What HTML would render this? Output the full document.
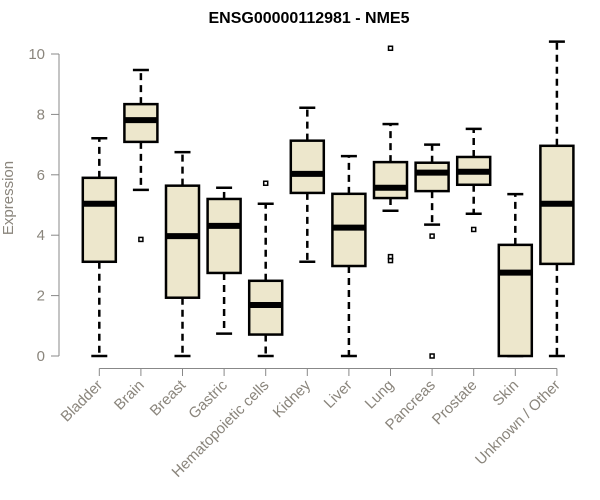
<!DOCTYPE html>
<html><head><meta charset="utf-8"><style>body{margin:0;background:#fff}svg{display:block}</style></head>
<body>
<svg id="chart" width="600" height="500" xmlns="http://www.w3.org/2000/svg" font-family="Liberation Sans, Arial, sans-serif">
<text x="309" y="23" text-anchor="middle" font-weight="bold" font-size="16" fill="#000">ENSG00000112981 - NME5</text>
<text transform="translate(13,198) rotate(-90)" text-anchor="middle" font-size="15" fill="#8a857c">Expression</text>
<g id="g"></g>
</svg>
<script>
const categories=["Bladder","Brain","Breast","Gastric","Hematopoietic cells","Kidney","Liver","Lung","Pancreas","Prostate","Skin","Unknown / Other"];
const whiskerLow=[0,5.50,0,0.74,0,3.12,0,4.81,4.35,4.71,0,0];
const q1=[3.12,7.09,1.93,2.75,0.71,5.40,2.98,5.23,5.46,5.67,0,3.05];
const medians=[5.04,7.81,3.97,4.31,1.69,6.03,4.25,5.57,6.07,6.10,2.76,5.04];
const q3=[5.90,8.34,5.64,5.20,2.49,7.13,5.37,6.42,6.40,6.59,3.68,6.96];
const whiskerHigh=[7.21,9.47,6.75,5.57,5.04,8.22,6.62,7.68,7.00,7.52,5.36,10.41];
const outliers=[[],[3.86],[],[],[5.72],[],[],[10.19,3.29,3.16],[3.97,0],[4.19],[],[]];
const yTicks=[0,2,4,6,8,10];
const NS="http://www.w3.org/2000/svg",g=document.getElementById('g');
const y=v=>356-v*30.2, x=i=>99.3+i*41.6;
function mk(t,a,name){const e=document.createElementNS(NS,t);for(const k in a)e.setAttribute(k,a[k]);


g.appendChild(e);return e;}
const grey="#888";
const tgrey="#8a857c";
mk('line',{x1:59,x2:59,y1:y(0),y2:y(10),stroke:grey},'y-axis-line');
yTicks.forEach(t=>{mk('line',{x1:51,x2:59,y1:y(t),y2:y(t),stroke:grey},'y-tick');
const tx=mk('text',{x:45,y:y(t)+5,'text-anchor':'end','font-size':15,fill:tgrey},'y-tick-label');tx.textContent=t;});
mk('line',{x1:x(0),x2:x(11),y1:368.5,y2:368.5,stroke:grey},'x-axis-line');
categories.forEach((c,i)=>{const cx=x(i),hw=16.5;
mk('line',{x1:cx,x2:cx,y1:368.5,y2:376,stroke:grey},'x-tick');
const tx=mk('text',{x:cx+4,y:386,'text-anchor':'end','font-size':15,fill:tgrey,transform:`rotate(-45 ${cx+4} 386)`},'x-tick-label');tx.textContent=c;
const d={stroke:'#000','stroke-width':2.5,'stroke-dasharray':'7,5'};
mk('line',Object.assign({x1:cx,x2:cx,y1:y(q3[i]),y2:y(whiskerHigh[i])},d),'upper-whisker');
mk('line',Object.assign({x1:cx,x2:cx,y1:y(q1[i]),y2:y(whiskerLow[i])},d),'lower-whisker');
mk('line',{x1:cx-8,x2:cx+8,y1:y(whiskerHigh[i]),y2:y(whiskerHigh[i]),stroke:'#000','stroke-width':2.5},'upper-whisker-cap');
mk('line',{x1:cx-8,x2:cx+8,y1:y(whiskerLow[i]),y2:y(whiskerLow[i]),stroke:'#000','stroke-width':2.5},'lower-whisker-cap');
mk('rect',{x:cx-hw,y:y(q3[i]),width:hw*2,height:y(q1[i])-y(q3[i]),fill:'#ede7cc',stroke:'#000','stroke-width':2.5},'box-'+c.toLowerCase().replace(/[^a-z]+/g,'-'));
mk('line',{x1:cx-hw,x2:cx+hw,y1:y(medians[i]),y2:y(medians[i]),stroke:'#000','stroke-width':6},'median-line');
outliers[i].forEach(o=>mk('rect',{x:cx-2,y:y(o)-2,width:4,height:4,fill:'none',stroke:'#000','stroke-width':1.5},'outlier-point'));
});
</script>
</body></html>
